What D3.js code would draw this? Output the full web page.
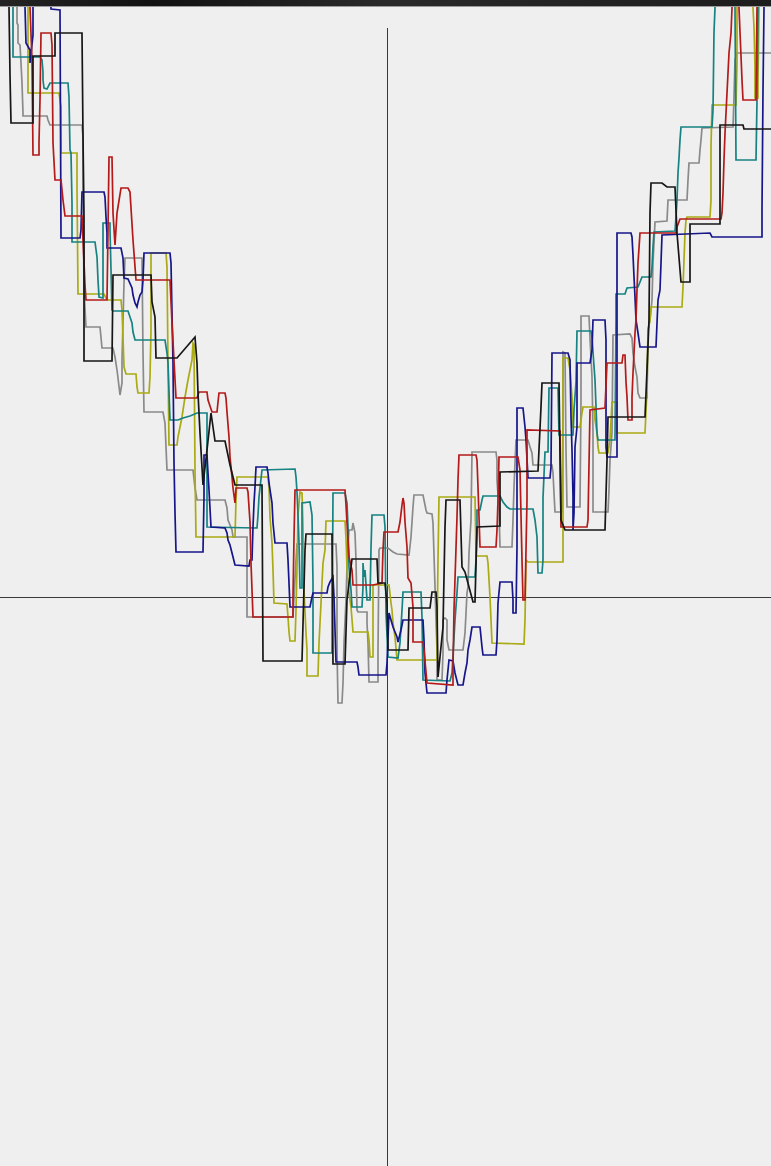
<!DOCTYPE html>
<html>
<head>
<meta charset="utf-8">
<script src="https://cdn.jsdelivr.net/npm/d3@7"></script>
<style>
  html, body { margin: 0; padding: 0; background: #efefef; overflow: hidden; }
  svg { display: block; }
</style>
</head>
<body>
<div id="graph"></div>
<script>
// series traces, [x, y] in plot units, origin at the crosshair
const blackLine = [[-37.8,59.0],[-37.7,52.2],[-37.6,47.4],[-35.4,47.4],[-35.4,54.1],[-33.2,54.1],[-33.2,56.4],[-30.5,56.4],[-30.4,46.1],[-30.3,37.9],[-30.3,23.6],[-27.5,23.6],[-27.4,32.2],[-23.6,32.2],[-23.5,29.5],[-23.2,28.0],[-23.1,23.9],[-21.0,23.9],[-19.2,26.0],[-19.0,23.4],[-18.9,20.4],[-18.7,16.4],[-18.4,11.2],[-18.0,14.7],[-17.6,18.4],[-17.2,15.6],[-16.2,15.6],[-15.7,13.2],[-15.2,11.2],[-12.5,11.2],[-12.4,-6.4],[-8.5,-6.4],[-8.2,4.7],[-8.1,6.3],[-5.5,6.3],[-5.4,-6.7],[-4.2,-6.7],[-4.0,-0.3],[-3.5,3.8],[-1.0,3.8],[-0.9,1.4],[-0.2,1.4],[0.0,-0.6],[0.1,-5.3],[2.1,-5.3],[2.2,-1.1],[4.3,-1.1],[4.5,0.5],[4.9,0.5],[5.0,-1.0],[5.1,-8.0],[5.6,-3.0],[5.8,7.0],[5.9,9.7],[7.3,9.7],[7.5,3.0],[7.8,2.5],[8.6,-0.5],[8.8,-0.5],[9.0,7.0],[11.3,7.1],[11.3,12.5],[15.1,12.6],[15.4,19.0],[15.5,21.4],[17.2,21.4],[17.4,7.7],[17.8,6.7],[21.8,6.7],[22.0,13.7],[22.1,18.0],[25.8,18.0],[26.0,22.7],[26.2,27.7],[26.3,38.4],[26.4,41.4],[27.5,41.4],[28.0,41.0],[28.8,41.0],[29.0,36.4],[29.4,31.5],[30.3,31.5],[30.3,37.3],[33.3,37.3],[33.3,47.2],[35.6,47.2],[35.7,46.8],[38.4,46.8]];

const redLine = [[-35.7,59.0],[-35.5,53.7],[-35.4,44.2],[-34.8,44.2],[-34.8,45.5],[-34.7,49.7],[-34.6,56.4],[-33.6,56.4],[-33.5,55.2],[-33.4,45.4],[-33.2,41.7],[-32.6,41.7],[-32.4,39.7],[-32.2,38.1],[-30.5,38.1],[-30.4,35.7],[-30.2,31.2],[-30.1,29.7],[-28.0,29.7],[-27.9,36.7],[-27.8,44.0],[-27.5,44.0],[-27.4,38.4],[-27.2,35.2],[-27.0,38.4],[-26.6,40.9],[-25.9,40.9],[-25.7,40.5],[-25.4,35.7],[-25.1,31.7],[-21.7,31.7],[-21.5,27.4],[-21.1,19.9],[-19.0,19.9],[-18.8,20.5],[-18.0,20.5],[-17.9,19.7],[-17.5,18.5],[-17.0,18.5],[-16.9,19.5],[-16.8,20.4],[-16.2,20.4],[-16.1,19.9],[-16.0,18.5],[-15.8,16.0],[-15.7,14.0],[-15.5,12.0],[-15.4,10.9],[-15.2,9.4],[-15.1,10.9],[-14.0,10.9],[-13.9,10.5],[-13.7,7.5],[-13.6,3.4],[-13.4,-2.0],[-9.4,-2.0],[-9.4,0.0],[-9.3,5.9],[-9.2,10.7],[-4.2,10.7],[-4.1,9.2],[-4.0,7.4],[-3.8,4.0],[-3.5,2.7],[-3.4,1.2],[-1.4,1.2],[-0.5,1.4],[-0.4,4.7],[-0.3,6.5],[1.1,6.5],[1.3,7.5],[1.5,9.2],[1.6,9.9],[1.7,9.4],[1.8,7.5],[2.0,5.0],[2.1,1.9],[2.4,1.4],[2.6,-1.0],[2.6,-4.5],[3.6,-4.5],[3.7,-5.3],[4.0,-8.6],[6.6,-8.8],[6.6,-7.0],[6.7,-1.3],[7.0,8.0],[7.1,11.7],[7.2,14.2],[8.9,14.2],[9.0,13.7],[9.1,11.0],[9.3,5.0],[10.9,5.0],[11.0,6.7],[11.1,9.7],[11.2,14.0],[13.1,14.0],[13.3,12.7],[13.5,3.7],[13.6,-0.3],[13.8,-0.3],[14.0,9.7],[14.0,16.7],[17.3,16.6],[17.4,7.0],[20.0,7.0],[20.1,7.7],[20.3,18.7],[21.8,18.9],[22.0,23.4],[23.5,23.4],[23.6,24.2],[23.8,24.2],[23.9,21.5],[24.0,20.0],[24.1,17.7],[24.5,17.7],[24.5,20.0],[24.6,22.4],[24.8,26.4],[24.9,27.7],[25.0,30.7],[25.1,33.4],[25.2,34.9],[25.3,36.4],[28.9,36.4],[29.0,37.0],[29.3,37.8],[33.4,37.8],[33.5,38.4],[33.6,40.4],[33.7,43.7],[33.8,46.4],[34.0,50.4],[34.2,54.4],[34.4,56.4],[34.5,58.9],[34.6,61.7],[35.1,61.7],[35.2,58.9],[35.5,51.7],[35.6,49.7],[36.9,49.7],[37.0,58.9],[37.1,61.7]];

const blueLine = [[-36.2,59.0],[-36.1,55.4],[-35.7,54.7],[-35.7,53.4],[-35.4,56.2],[-35.4,59.0],[-35.3,61.7],[-33.7,61.7],[-33.6,58.8],[-32.7,58.7],[-32.6,35.9],[-30.7,35.9],[-30.6,36.7],[-30.5,40.5],[-28.3,40.5],[-28.2,40.0],[-28.1,38.0],[-28.0,36.4],[-28.0,34.9],[-26.6,34.9],[-26.4,33.9],[-26.3,31.9],[-25.9,31.8],[-25.5,30.9],[-25.4,30.2],[-25.2,29.4],[-25.0,29.0],[-24.9,29.5],[-24.7,30.2],[-24.5,30.5],[-24.4,31.7],[-24.3,34.4],[-21.7,34.4],[-21.6,33.4],[-21.5,28.4],[-21.4,23.4],[-21.3,13.4],[-21.2,8.4],[-21.1,4.5],[-18.4,4.5],[-18.3,10.0],[-18.3,14.2],[-18.0,14.2],[-17.9,12.4],[-17.8,10.7],[-17.6,7.0],[-16.2,6.9],[-16.0,6.4],[-15.9,5.7],[-15.7,5.2],[-15.5,4.4],[-15.2,3.2],[-13.8,3.1],[-13.7,3.7],[-13.5,3.7],[-13.4,7.0],[-13.3,9.4],[-13.2,11.0],[-13.1,13.0],[-12.0,13.0],[-11.9,12.4],[-11.8,11.4],[-11.5,9.4],[-11.4,7.4],[-11.2,5.4],[-10.0,5.4],[-9.9,3.7],[-9.8,1.4],[-9.7,-1.0],[-7.7,-1.0],[-7.5,0.0],[-7.4,0.4],[-6.0,0.4],[-5.9,1.0],[-5.7,1.5],[-5.4,2.0],[-5.3,0.0],[-5.1,-6.5],[-3.0,-6.5],[-2.9,-7.0],[-2.8,-7.8],[-0.1,-7.8],[0.0,-6.6],[0.2,-1.6],[0.6,-3.0],[1.0,-4.0],[1.1,-4.5],[1.4,-3.3],[1.6,-2.3],[3.6,-2.3],[3.7,-4.3],[3.8,-7.6],[4.0,-9.6],[5.9,-9.6],[6.0,-8.3],[6.2,-6.3],[6.6,-6.4],[6.8,-7.6],[7.1,-8.8],[7.6,-8.8],[7.8,-7.6],[8.0,-6.6],[8.1,-5.3],[8.3,-4.3],[8.5,-3.0],[9.3,-3.0],[9.5,-5.0],[9.6,-5.8],[10.9,-5.8],[11.0,-4.3],[11.1,-0.6],[11.3,1.5],[12.5,1.5],[12.6,-0.3],[12.6,-1.6],[12.9,-1.6],[13.0,5.0],[13.0,18.9],[13.6,18.9],[13.8,17.0],[13.9,15.7],[14.1,11.9],[16.3,11.9],[16.4,13.0],[16.5,24.4],[18.1,24.4],[18.3,23.7],[18.4,18.0],[18.5,14.7],[18.6,10.0],[18.6,6.7],[18.7,8.4],[18.8,15.0],[19.0,17.0],[19.0,23.4],[20.3,23.4],[20.5,24.7],[20.6,27.7],[21.8,27.7],[21.9,25.7],[21.9,15.0],[22.0,14.0],[23.0,14.0],[23.0,36.4],[24.4,36.4],[24.5,36.0],[24.6,34.2],[24.7,32.0],[24.8,30.0],[24.9,27.7],[25.1,26.4],[25.3,25.0],[26.9,25.0],[27.1,29.7],[27.3,30.7],[27.4,33.4],[27.5,36.2],[32.3,36.4],[32.5,36.0],[37.5,36.0],[37.5,38.8],[37.6,50.7],[37.7,58.9],[37.8,61.7]];

const tealLine = [[-37.4,59.0],[-37.4,54.0],[-34.7,54.0],[-34.5,53.7],[-34.4,52.5],[-34.4,51.7],[-34.3,50.9],[-34.0,50.8],[-33.7,51.4],[-31.9,51.4],[-31.8,50.0],[-31.7,44.7],[-31.6,44.4],[-31.5,39.4],[-31.5,35.5],[-29.2,35.5],[-29.0,34.0],[-28.9,31.7],[-28.8,30.0],[-28.4,29.9],[-28.4,37.4],[-27.7,37.4],[-27.7,36.7],[-27.5,28.7],[-27.4,28.6],[-25.9,28.6],[-25.7,28.0],[-25.5,27.4],[-25.4,26.5],[-25.2,25.7],[-22.2,25.7],[-22.0,24.4],[-21.9,23.4],[-21.7,17.7],[-20.9,17.7],[-20.4,17.9],[-19.7,18.1],[-19.0,18.4],[-18.0,18.4],[-18.0,7.0],[-13.0,6.9],[-12.9,8.2],[-12.8,10.0],[-12.5,12.7],[-9.2,12.8],[-9.1,12.0],[-9.0,10.5],[-8.9,8.2],[-8.8,5.4],[-8.7,0.9],[-8.5,0.9],[-8.5,9.4],[-7.7,9.5],[-7.5,8.2],[-7.4,1.4],[-7.4,-5.6],[-5.5,-5.6],[-5.4,10.4],[-4.2,10.4],[-4.0,9.4],[-3.9,7.0],[-3.8,3.0],[-3.6,0.7],[-3.5,-1.0],[-2.5,-1.0],[-2.4,1.0],[-2.4,3.4],[-2.3,2.0],[-2.2,2.7],[-2.0,-0.3],[-1.7,-0.3],[-1.6,4.9],[-1.5,8.2],[-0.3,8.2],[-0.2,7.0],[-0.1,-1.6],[0.1,-6.0],[1.1,-6.1],[1.3,-4.6],[1.5,-1.3],[1.6,0.5],[3.4,0.5],[3.5,-2.0],[3.6,-8.3],[6.3,-8.4],[6.5,-7.6],[6.8,-2.3],[7.0,0.4],[7.1,2.0],[8.8,2.0],[8.9,3.7],[9.0,6.7],[9.0,8.7],[9.3,8.7],[9.5,9.7],[9.6,10.1],[11.3,10.1],[11.6,9.5],[12.0,9.0],[12.3,8.8],[14.6,8.8],[14.8,7.7],[15.0,6.0],[15.1,2.4],[15.5,2.4],[15.6,3.7],[15.6,9.9],[15.8,14.5],[16.1,14.5],[16.2,20.9],[17.1,20.9],[17.2,16.2],[18.6,16.2],[18.7,18.7],[18.9,21.5],[19.0,26.6],[20.4,26.6],[20.5,25.9],[20.8,21.7],[21.0,16.4],[21.1,15.7],[22.8,15.7],[22.9,27.7],[22.9,30.3],[23.8,30.3],[24.0,30.9],[25.1,31.0],[25.3,31.5],[25.5,32.0],[26.4,32.0],[26.5,33.0],[26.6,35.0],[26.7,36.5],[28.8,36.6],[28.9,38.0],[29.0,39.7],[29.1,42.4],[29.2,43.9],[29.3,45.7],[29.4,47.0],[32.5,47.0],[32.6,48.7],[32.7,56.5],[32.8,58.9],[32.9,61.7],[34.7,61.7],[34.8,58.9],[34.9,43.7],[36.9,43.7],[37.0,49.7],[37.1,58.9],[37.2,61.7]];

const grayLine = [[-37.0,59.0],[-37.0,57.4],[-36.9,57.2],[-36.9,55.4],[-36.7,55.2],[-36.6,53.4],[-36.5,51.4],[-36.4,48.4],[-36.4,48.1],[-34.0,48.1],[-33.9,47.7],[-33.7,47.2],[-30.5,47.2],[-30.4,46.0],[-30.4,41.0],[-30.3,30.7],[-30.1,27.0],[-28.7,27.0],[-28.5,24.9],[-27.4,24.9],[-27.2,24.0],[-27.0,22.7],[-26.9,21.9],[-26.7,20.2],[-26.5,21.4],[-26.5,23.7],[-26.3,31.4],[-26.2,33.9],[-24.5,33.9],[-24.4,24.4],[-24.3,18.5],[-22.4,18.5],[-22.2,17.4],[-22.1,15.0],[-22.0,12.7],[-19.4,12.7],[-19.2,10.9],[-19.0,9.7],[-16.2,9.7],[-16.0,8.9],[-15.9,7.7],[-15.7,7.2],[-15.5,6.7],[-15.4,6.0],[-14.0,6.0],[-14.0,-2.0],[-13.5,-2.0],[-9.4,-2.0],[-9.1,3.7],[-9.0,5.3],[-5.1,5.3],[-5.0,3.0],[-5.0,-5.3],[-4.9,-10.6],[-4.5,-10.6],[-4.4,-8.6],[-4.3,-4.6],[-4.1,-0.3],[-4.0,3.0],[-3.9,5.4],[-3.8,6.7],[-3.5,6.7],[-3.4,7.4],[-3.2,6.4],[-3.1,3.7],[-3.0,-1.3],[-2.9,-1.5],[-2.0,-1.5],[-2.0,-2.6],[-1.9,-4.6],[-1.8,-8.5],[-0.9,-8.5],[-0.9,-5.3],[-0.8,4.7],[-0.7,4.9],[0.1,4.9],[0.6,4.5],[1.0,4.3],[2.2,4.2],[2.4,6.0],[2.6,9.0],[2.7,10.2],[3.6,10.2],[3.7,9.7],[3.9,8.7],[4.0,8.4],[4.5,8.3],[4.6,7.4],[4.7,4.2],[4.8,1.0],[4.9,-2.3],[5.0,-5.3],[5.0,-8.3],[5.5,-8.3],[5.6,-5.6],[5.6,-2.3],[5.8,-2.1],[6.0,-2.3],[6.0,-4.3],[6.2,-5.3],[7.6,-5.3],[7.8,-3.6],[8.0,0.4],[8.1,1.0],[8.2,4.4],[8.4,7.7],[8.5,14.5],[10.9,14.5],[11.0,13.7],[11.0,11.7],[11.2,8.7],[11.3,5.0],[12.5,5.0],[12.6,7.7],[12.7,11.0],[12.9,15.7],[14.1,15.7],[14.3,15.0],[14.5,14.4],[14.6,13.2],[16.5,13.2],[16.6,12.4],[16.7,10.4],[16.8,8.5],[17.5,8.5],[17.6,18.4],[17.6,24.5],[17.8,24.4],[17.9,14.7],[18.0,9.0],[19.3,9.0],[19.4,19.7],[19.4,28.1],[20.2,28.1],[20.3,25.9],[20.5,22.0],[20.6,16.4],[20.6,8.5],[22.1,8.5],[22.2,10.7],[22.3,13.7],[22.5,16.4],[22.6,26.2],[24.3,26.3],[24.5,25.9],[24.6,24.4],[24.8,23.0],[25.0,22.0],[25.1,20.4],[25.3,19.9],[26.0,19.9],[26.1,26.7],[26.3,27.7],[26.5,29.7],[26.6,33.4],[26.8,37.5],[28.0,37.6],[28.1,39.7],[30.0,39.7],[30.1,41.7],[30.2,43.4],[31.2,43.4],[31.3,44.7],[31.4,45.7],[31.5,46.9],[34.6,47.0],[34.7,50.0],[34.8,53.7],[35.0,54.4],[38.4,54.4]];

const oliveLine = [[-35.9,59.0],[-35.9,50.4],[-32.8,50.4],[-32.6,49.0],[-32.6,44.4],[-31.0,44.4],[-31.0,41.0],[-30.9,30.3],[-28.3,30.3],[-28.1,29.9],[-27.9,29.7],[-26.6,29.7],[-26.5,28.7],[-26.4,26.0],[-26.3,23.0],[-26.1,22.3],[-25.1,22.3],[-25.0,21.0],[-24.9,20.4],[-23.8,20.4],[-23.7,22.0],[-23.6,26.7],[-23.6,34.4],[-22.1,34.4],[-22.0,33.0],[-21.9,23.4],[-21.8,15.2],[-21.0,15.2],[-20.9,16.0],[-20.5,18.0],[-20.2,20.0],[-19.9,21.7],[-19.5,23.7],[-19.4,25.4],[-19.3,25.2],[-19.2,12.7],[-19.1,6.0],[-15.2,6.0],[-15.1,9.7],[-15.0,12.0],[-11.9,12.0],[-11.8,11.0],[-11.7,8.0],[-11.5,5.4],[-11.4,2.7],[-11.3,-0.6],[-10.0,-0.7],[-9.9,-2.0],[-9.8,-3.5],[-9.7,-4.4],[-9.2,-4.4],[-9.1,-1.3],[-9.0,3.0],[-8.9,8.2],[-8.7,10.5],[-8.5,10.4],[-8.4,7.2],[-8.3,0.7],[-8.1,-3.6],[-8.0,-5.3],[-8.0,-7.9],[-6.9,-7.9],[-6.8,-4.6],[-6.6,-0.6],[-6.4,3.4],[-6.2,4.7],[-6.1,7.6],[-4.2,7.6],[-4.1,5.9],[-4.0,2.9],[-3.8,0.4],[-3.6,-1.0],[-3.4,-3.5],[-1.9,-3.5],[-1.8,-4.3],[-1.7,-6.0],[-1.4,-6.0],[-1.4,1.2],[0.2,1.2],[0.4,-0.6],[0.5,-1.3],[0.6,-2.6],[0.8,-4.0],[1.0,-6.3],[5.0,-6.3],[5.0,-4.3],[5.1,3.7],[5.2,10.0],[8.8,10.0],[8.9,4.1],[10.0,4.1],[10.1,3.4],[10.3,0.0],[10.5,-4.6],[13.7,-4.7],[13.8,-2.3],[13.9,3.7],[14.1,3.5],[17.6,3.5],[17.6,23.9],[18.1,23.9],[18.3,22.7],[18.5,20.0],[18.6,17.0],[19.3,17.0],[19.5,18.4],[19.6,19.0],[20.7,19.0],[20.8,17.7],[21.0,16.4],[21.1,15.0],[21.2,14.4],[22.1,14.4],[22.3,15.7],[22.5,19.5],[23.0,19.5],[23.0,16.4],[25.8,16.4],[26.0,20.7],[26.1,26.7],[26.3,27.7],[26.4,29.0],[29.5,29.0],[29.6,31.0],[29.7,33.7],[29.8,36.4],[29.9,37.7],[30.0,38.0],[32.3,38.0],[32.4,39.7],[32.4,45.0],[32.5,49.2],[34.9,49.2],[35.0,53.5],[35.0,58.9],[35.1,61.7],[36.5,61.7],[36.6,58.9],[36.7,57.0],[36.8,53.0],[36.8,49.9],[37.1,49.9],[37.1,51.7],[37.2,58.9],[37.3,61.7]];

const seriesNames = ["gray", "olive", "teal", "blue", "red", "black"];
const seriesData = [grayLine, oliveLine, tealLine, blueLine, redLine, blackLine];
const seriesColors = ["#8a8a8a", "#aaaa14", "#168282", "#16168a", "#b41a1a", "#161616"];

const xDomain = [-38.7, 38.4];
const yDomain = [-56.9, 59.7];

const width = 771;
const height = 1166;

const x = d3.scaleLinear().domain(xDomain).range([0, width]);
const y = d3.scaleLinear().domain(yDomain).range([height, 0]);

const svg = d3.create("svg")
    .attr("width", width)
    .attr("height", height);

svg.append("rect")
    .attr("width", width)
    .attr("height", height)
    .attr("fill", "#efefef");

// crosshair axes through the origin
svg.append("line")
    .attr("x1", x(0) + 0.5).attr("x2", x(0) + 0.5)
    .attr("y1", 28).attr("y2", height)
    .attr("stroke", "#3a3a3a").attr("stroke-width", 1);

svg.append("line")
    .attr("x1", 0).attr("x2", width)
    .attr("y1", y(0) + 0.5).attr("y2", y(0) + 0.5)
    .attr("stroke", "#3a3a3a").attr("stroke-width", 1);

const line = d3.line()
    .x(d => x(d[0]))
    .y(d => y(d[1]));

svg.append("g")
    .selectAll("path")
    .data(seriesData)
    .join("path")
    .attr("class", (d, i) => "series " + seriesNames[i])
    .attr("fill", "none")
    .attr("stroke", (d, i) => seriesColors[i])
    .attr("stroke-width", 1.7)
    .attr("stroke-linejoin", "miter")
    .attr("d", line);

// dark title strip at the top
const grad = svg.append("defs").append("linearGradient")
    .attr("id", "strip");
grad.append("stop").attr("offset", "0%").attr("stop-color", "#242424");
grad.append("stop").attr("offset", "20%").attr("stop-color", "#121212");
grad.append("stop").attr("offset", "50%").attr("stop-color", "#2a2a2a");
grad.append("stop").attr("offset", "100%").attr("stop-color", "#1c1c1c");

svg.append("rect")
    .attr("x", 0).attr("y", 0)
    .attr("width", width).attr("height", 6)
    .attr("fill", "url(#strip)");

svg.append("line")
    .attr("x1", 0).attr("x2", width)
    .attr("y1", 6.5).attr("y2", 6.5)
    .attr("stroke", "#9a9a9a").attr("stroke-width", 1);

document.getElementById("graph").appendChild(svg.node());
</script>
</body>
</html>
